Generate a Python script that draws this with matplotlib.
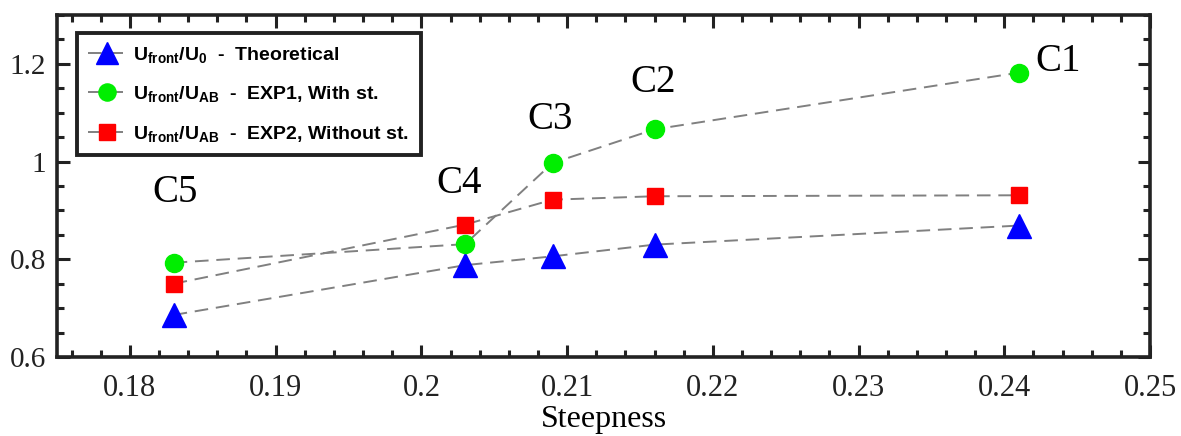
import numpy as np
import matplotlib
matplotlib.use("Agg")
import matplotlib.pyplot as plt
from matplotlib.ticker import MultipleLocator, FuncFormatter

plt.rcParams['font.family'] = ['Liberation Serif', 'DejaVu Serif']
plt.rcParams['mathtext.fontset'] = 'custom'
plt.rcParams['mathtext.rm'] = 'Liberation Sans:bold'
plt.rcParams['mathtext.bf'] = 'Liberation Sans:bold'
plt.rcParams['mathtext.it'] = 'Liberation Sans:bold'

# steepness of the five cases C5..C1
steepness = [0.183, 0.203, 0.209, 0.216, 0.241]
theoretical = [0.686, 0.788, 0.806, 0.830, 0.869]
exp1_with = [0.793, 0.831, 0.997, 1.066, 1.182]
exp2_without = [0.750, 0.871, 0.922, 0.929, 0.931]

case_names = ['C5', 'C4', 'C3', 'C2', 'C1']
case_label_pos = [(0.1831, 0.936), (0.2026, 0.956), (0.2088, 1.087),
                  (0.2159, 1.161), (0.2437, 1.204)]

labels = [r'$\mathbf{U_{front}/U_{0}}$  -  Theoretical',
          r'$\mathbf{U_{front}/U_{AB}}$  -  EXP1, With st.',
          r'$\mathbf{U_{front}/U_{AB}}$  -  EXP2, Without st.']

fig = plt.figure(figsize=(11.81, 4.36), dpi=100)
ax = fig.add_axes([0.0483, 0.1812, 0.9255, 0.7844])

line_kw = dict(color='#808080', linestyle='--', linewidth=1.4, dashes=(7, 4))
ax.plot(steepness, theoretical, marker='^', markersize=17, markerfacecolor='#0000ff',
        markeredgecolor='#0000ff', label=labels[0], **line_kw)
ax.plot(steepness, exp1_with, marker='o', markersize=13, markerfacecolor='#00ee00',
        markeredgecolor='#00ee00', label=labels[1], **line_kw)
ax.plot(steepness, exp2_without, marker='s', markersize=12, markerfacecolor='#ff0000',
        markeredgecolor='#ff0000', label=labels[2], **line_kw)

for name, (tx, ty) in zip(case_names, case_label_pos):
    ax.text(tx, ty, name, fontsize=28, ha='center', va='center')

ax.set_xlim(0.175, 0.25)
ax.set_ylim(0.6, 1.3)
ax.xaxis.set_major_locator(MultipleLocator(0.01))
ax.xaxis.set_minor_locator(MultipleLocator(0.002))
ax.yaxis.set_major_locator(MultipleLocator(0.2))
ax.yaxis.set_minor_locator(MultipleLocator(0.05))
ax.xaxis.set_major_formatter(FuncFormatter(lambda v, p: '%g' % round(v, 3)))
ax.yaxis.set_major_formatter(FuncFormatter(lambda v, p: '%g' % round(v, 2)))

ax.tick_params(which='both', direction='in', top=True, right=True, width=2.2, colors='#222222')
ax.tick_params(which='major', length=9)
ax.tick_params(which='minor', length=5)
ax.tick_params(axis='x', which='major', labelsize=22, pad=12, labelcolor='#222222')
ax.tick_params(axis='y', which='major', labelsize=21, pad=8, labelcolor='#222222')
for lab in ax.get_xticklabels() + ax.get_yticklabels():
    lab.set_fontfamily('Liberation Serif')
for sp in ax.spines.values():
    sp.set_linewidth(2.6)
    sp.set_color('#222222')

ax.set_xlabel('Steepness', fontsize=23, labelpad=2)

leg = ax.legend(loc='upper left', bbox_to_anchor=(0.018, 0.947), borderaxespad=0,
                prop={'family': 'Liberation Sans', 'weight': 'bold', 'size': 14},
                fancybox=False, framealpha=1, edgecolor='#222222',
                handlelength=1.9, handletextpad=0.4, labelspacing=1.0,
                borderpad=0.6, markerscale=0.95)
leg.get_frame().set_linewidth(2.8)

fig.savefig('out.png', dpi=100)
